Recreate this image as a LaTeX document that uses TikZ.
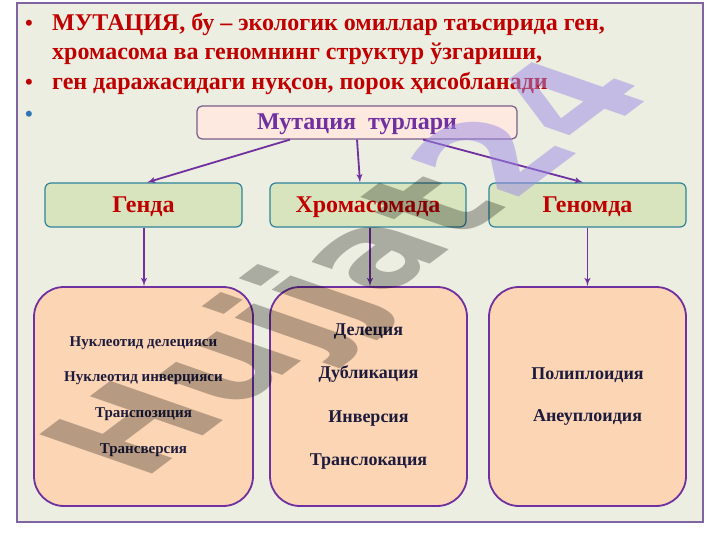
\documentclass[tikz,border=0pt]{standalone}
\usepackage{fontspec}
\setmainfont{Liberation Serif}
\newfontfamily\markfont{DejaVu Sans}
\usetikzlibrary{calc}
\usetikzlibrary{arrows}
\usetikzlibrary{positioning}
\definecolor{framebg}{HTML}{EBEEE0}
\definecolor{frameedge}{HTML}{8064A2}
\definecolor{slidered}{HTML}{C00000}
\definecolor{typepurple}{HTML}{7030A0}
\definecolor{pinkfill}{HTML}{FDE9DF}
\definecolor{pinkedge}{HTML}{7A5C8A}
\definecolor{greenfill}{HTML}{D7E4BD}
\definecolor{tealedge}{HTML}{31849B}
\definecolor{peachfill}{HTML}{FCD5B5}
\definecolor{navytext}{HTML}{1C1B3C}
\definecolor{bulletblue}{HTML}{2E75B6}
\definecolor{markgray}{HTML}{8A8A8A}
\definecolor{marklilac}{HTML}{9C8AE6}

\begin{document}
\begin{tikzpicture}[x=1pt,y=-1pt,
  every node/.style={inner sep=0pt},
  point/.style={anchor=base west,text=slidered,font=\fontsize{24}{24}\selectfont\bfseries},
  dot/.style={anchor=base,font=\fontsize{22}{22}\selectfont\bfseries},
  typebox/.style={draw=pinkedge,fill=pinkfill,rounded corners=5pt,line width=1.2pt,text=typepurple,text height=15pt,text depth=0pt,font=\fontsize{24}{24}\selectfont\bfseries},
  levelbox/.style={draw=tealedge,fill=greenfill,rounded corners=6pt,line width=1.2pt,text=slidered,text height=15pt,text depth=0pt,minimum width=197pt,minimum height=44pt,font=\fontsize{24}{24}\selectfont\bfseries},
  listbox/.style={draw=typepurple,fill=peachfill,rounded corners=30pt,line width=1.8pt,text=navytext,align=center,minimum height=219pt},
  link/.style={draw=typepurple,line width=1.8pt,-latex'}]
  % Constants
  \pgfmathsetmacro\w{197}
  \pgfmathsetmacro\h{219}
  % Boundary
  \path[use as bounding box] (0,0) rectangle (720,540);
  \draw[frameedge,fill=framebg,line width=1.5pt] (17,3) rectangle (703,522);
  % Bullets
  \node[dot,text=slidered] (b1) at (29,31) {•};
  \node[dot,text=slidered] (b3) at (29,90) {•};
  \node[dot,text=bulletblue] (b4) at (29,122) {•};
  \node[point] (p1) at (52,31) {МУТАЦИЯ, бу – экологик омиллар таъсирида ген,};
  \node[point] (p2) at (52,60) {хромасома ва геномнинг структур ўзгариши,};
  \node[point] (p3) at (52,90) {ген даражасидаги нуқсон, порок ҳисобланади};
  % Types
  \node[typebox,minimum width=320pt,minimum height=33pt] (types) at (357,122.5) {Мутация\ \ турлари};
  \node[levelbox] (gene) at (143.5,205) {Генда};
  \node[levelbox,minimum width=196pt] (chrom) at (368,205) {Хромасомада};
  \node[levelbox] (genome) at (587.5,205) {Геномда};
  % Lists
  \node[listbox,minimum width=219pt,font=\fontsize{15}{35.7}\selectfont\bfseries] (genelist) at (143.5,396.5)
    {Нуклеотид делецияси\\Нуклеотид инверцияси\\Транспозиция\\Трансверсия};
  \node[listbox,minimum width=\w pt,font=\fontsize{18}{43.3}\selectfont\bfseries] (chromlist) at (368.5,396.5)
    {Делеция\\Дубликация\\Инверсия\\Транслокация};
  \node[listbox,minimum width=\w pt,font=\fontsize{18}{42}\selectfont\bfseries] (genomelist) at (587.5,396.5)
    {Полиплоидия\\Анеуплоидия};
  % Links
  \draw[link] ([xshift=-67pt]types.south) -- ([xshift=3.5pt]gene.north);
  \draw[link] (types.south) -- ([xshift=-8pt]chrom.north);
  \draw[link] ([xshift=66pt]types.south) -- ([xshift=-4.5pt]genome.north);
  \draw[link] ([xshift=0.5pt]gene.south) -- ([xshift=0.5pt]genelist.north);
  \draw[link] ([xshift=2pt]chrom.south) -- ([xshift=1.5pt]chromlist.north);
  \draw[link] (genome.south) -- (genomelist.north);
  % Watermark
  \node[rotate=37,xslant=-0.67,text=markgray,opacity=0.6,blend mode=multiply,font=\markfont\bfseries\fontsize{136}{136}\selectfont] (mark) at (284,328) {Hujjat};
  \node[rotate=37,xslant=-0.67,anchor=base west,text=marklilac,opacity=0.5,font=\markfont\bfseries\fontsize{136}{136}\selectfont] (mark24) at (mark.base east) {24};
\end{tikzpicture}
\end{document}
